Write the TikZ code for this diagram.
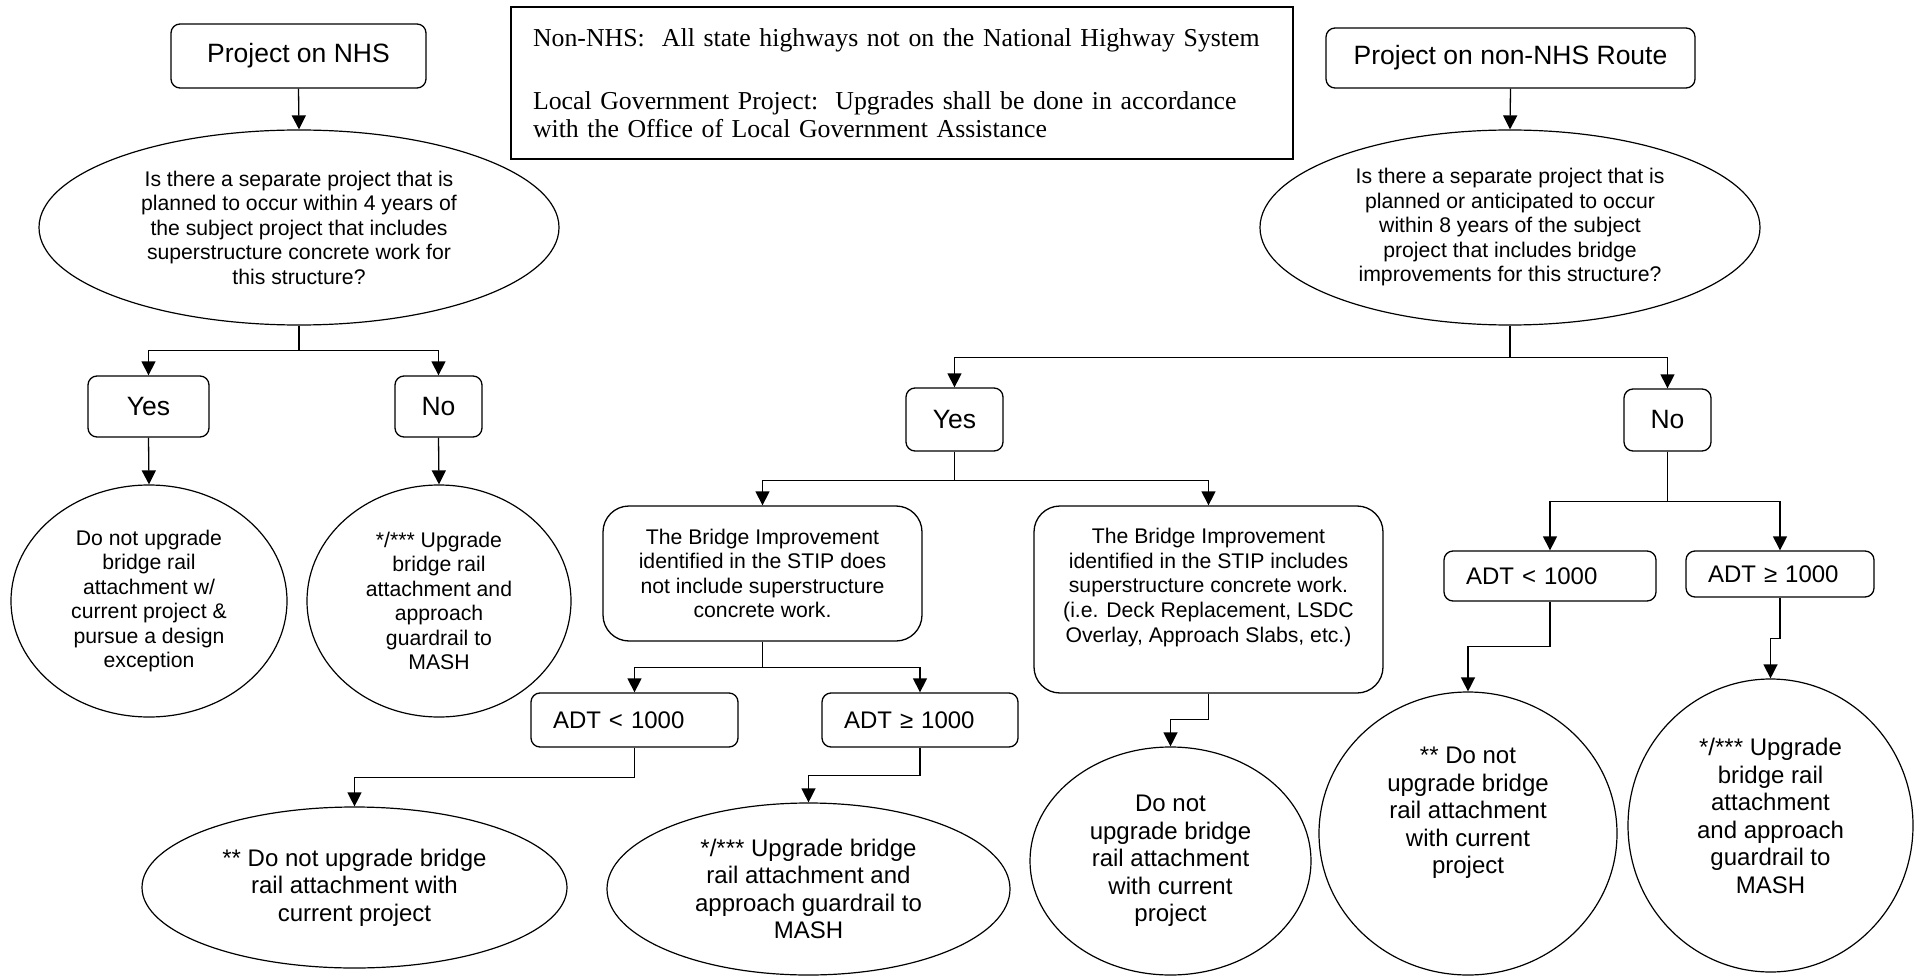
\documentclass[tikz,border=0pt]{standalone}
\usepackage{fontspec}
\setmainfont{Liberation Sans}
\newfontfamily\notefont{Liberation Serif}
\usetikzlibrary{positioning, arrows.meta, shapes.geometric}

\tikzset{
  box/.style={draw, rounded corners=9pt, line width=1.3pt, align=center, inner sep=0pt},
  titlebox/.style={box, font=\fontsize{26.5}{30}\selectfont},
  bigbox/.style={draw, rounded corners=26pt, line width=1.3pt, align=center, inner sep=0pt, font=\fontsize{21.2}{24.5}\selectfont},
  adtbox/.style={box, align=left, inner xsep=22pt, font=\fontsize{24}{27.5}\selectfont},
  oval/.style={draw, ellipse, line width=1.2pt, align=center, inner sep=0pt},
  smalloval/.style={oval, font=\fontsize{21.2}{24.5}\selectfont},
  largeoval/.style={oval, font=\fontsize{24}{27.5}\selectfont},
  largetext/.style={align=center, inner sep=0pt, font=\fontsize{24}{27.5}\selectfont},
  arr/.style={line width=1.3pt, -{Triangle[width=14pt,length=14pt]}}
}

\begin{document}
\begin{tikzpicture}[x=1pt, y=-1pt]
\useasboundingbox (0,0) rectangle (1919,976);

\node[titlebox, minimum width=255pt, minimum height=64pt] (nhs) at (298.5,56) {Project on NHS};
\node[draw, line width=1.3pt, minimum width=782pt, minimum height=152pt, text width=738pt, align=left, inner xsep=22pt, inner ysep=0pt, font=\notefont\fontsize{25.8}{28}\selectfont] (note) at (902,83)
  {Non-NHS:\ \ All state highways not on the National Highway System\\[35pt]
   Local Government Project:\ \ Upgrades shall be done in accordance\\
   with the Office of Local Government Assistance};
\node[titlebox, minimum width=369pt, minimum height=60pt] (nonnhs) at (1510.5,58) {Project on non-NHS Route};

\node[smalloval, minimum width=520pt, minimum height=195pt] (q1) at (299,227.5)
  {Is there a separate project that is\\ planned to occur within 4 years of\\ the subject project that includes\\ superstructure concrete work for\\ this structure?};
\node[smalloval, minimum width=500pt, minimum height=195pt] (q2) at (1510,227.5)
  {Is there a separate project that is\\ planned or anticipated to occur\\ within 8 years of the subject\\ project that includes bridge\\ improvements for this structure?};

\node[titlebox, minimum width=121pt, minimum height=61pt] (yes1) at (148.5,406.5) {Yes};
\node[titlebox, minimum width=87pt, minimum height=61pt] (no1) at (438.5,406.5) {No};
\node[titlebox, minimum width=97pt, minimum height=63pt] (yes2) at (954.5,419.5) {Yes};
\node[titlebox, minimum width=87pt, minimum height=62pt] (no2) at (1667.5,420) {No};

\node[smalloval, minimum width=276pt, minimum height=232pt] (donot1) at (149,601)
  {Do not upgrade\\ bridge rail\\ attachment w/\\ current project \&\\ pursue a design\\ exception};
\node[smalloval, minimum width=264pt, minimum height=232pt] (upgrade1) at (439,601)
  {*/*** Upgrade\\ bridge rail\\ attachment and\\ approach\\ guardrail to\\ MASH};

\node[bigbox, minimum width=319pt, minimum height=135pt] (stipa) at (762.5,573.5)
  {The Bridge Improvement\\ identified in the STIP does\\ not include superstructure\\ concrete work.};
\node[bigbox, minimum width=349pt, minimum height=187pt] (stipb) at (1208.5,599.5) {};
\node[align=center, inner sep=0pt, font=\fontsize{21.2}{24.7}\selectfont] (stipbtext) at (1208.5,587.5)
  {The Bridge Improvement\\ identified in the STIP includes\\ superstructure concrete work.\\ (i.e. Deck Replacement, LSDC\\ Overlay, Approach Slabs, etc.)};

\node[adtbox, text width=163pt, minimum height=54pt] (adt1) at (634.5,720) {ADT < 1000};
\node[adtbox, text width=152pt, minimum height=54pt] (adt2) at (920,720) {ADT ≥ 1000};
\node[adtbox, text width=168pt, minimum height=50pt] (adt3) at (1550,576) {ADT < 1000};
\node[adtbox, text width=144pt, minimum height=46pt] (adt4) at (1780,574) {ADT ≥ 1000};

\node[largeoval, minimum width=425pt, minimum height=161pt] (donot2) at (354.5,887.5)
  {** Do not upgrade bridge\\ rail attachment with\\ current project};
\node[largeoval, minimum width=403pt, minimum height=172pt] (upgrade2) at (808.5,889)
  {*/*** Upgrade bridge\\ rail attachment and\\ approach guardrail to\\ MASH};
\node[largeoval, minimum width=281pt, minimum height=228pt] (donot3) at (1170.5,861)
  {Do not\\ upgrade bridge\\ rail attachment\\ with current\\ project};
\node[oval, minimum width=298pt, minimum height=283pt] (donot4) at (1468,833.5) {};
\node[largetext] (donot4text) at (1468,813)
  {** Do not\\ upgrade bridge\\ rail attachment\\ with current\\ project};
\node[oval, minimum width=285pt, minimum height=293pt] (upgrade3) at (1770.5,825.5) {};
\node[largetext] (upgrade3text) at (1770.5,816)
  {*/*** Upgrade\\ bridge rail\\ attachment\\ and approach\\ guardrail to\\ MASH};

\draw[arr] (nhs.south) -- (q1.north);
\draw[arr] (nonnhs.south) -- (q2.north);
\draw[arr] (q1.south) -- ++(0,25) -| (yes1.north);
\draw[arr] (q1.south) -- ++(0,25) -| (no1.north);
\draw[arr] (q2.south) -- ++(0,32) -| (yes2.north);
\draw[arr] (q2.south) -- ++(0,32) -| (no2.north);
\draw[arr] (yes1.south) -- (donot1.north);
\draw[arr] (no1.south) -- (upgrade1.north);
\draw[arr] (yes2.south) -- ++(0,29) -| (stipa.north);
\draw[arr] (yes2.south) -- ++(0,29) -| (stipb.north);
\draw[arr] (stipa.south) -- ++(0,26) -| (adt1.north);
\draw[arr] (stipa.south) -- ++(0,26) -| (adt2.north);
\draw[arr] (adt1.south) -- ++(0,30) -| (donot2.north);
\draw[arr] (adt2.south) -- ++(0,28) -| (upgrade2.north);
\draw[arr] (stipb.south) -- ++(0,26) -| (donot3.north);
\draw[arr] (no2.south) -- ++(0,50) -| (adt3.north);
\draw[arr] (no2.south) -- ++(0,50) -| (adt4.north);
\draw[arr] (adt3.south) -- ++(0,45) -| (donot4.north);
\draw[arr] (adt4.south) -- ++(0,41) -| (upgrade3.north);
\end{tikzpicture}
\end{document}
